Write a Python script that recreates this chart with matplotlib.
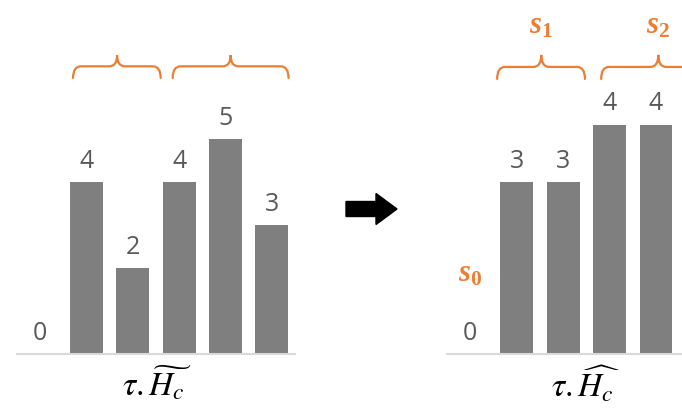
import matplotlib.pyplot as plt
from matplotlib.path import Path
from matplotlib.patches import PathPatch, FancyArrow

plt.rcParams['font.family'] = ['Open Sans', 'DejaVu Sans']
plt.rcParams['mathtext.fontset'] = 'custom'
plt.rcParams['mathtext.it'] = 'Liberation Serif:bold:italic'
plt.rcParams['mathtext.rm'] = 'Liberation Serif:bold'
plt.rcParams['mathtext.bf'] = 'Liberation Serif:bold'

before = [0, 4, 2, 4, 5, 3]
after = [0, 3, 3, 4, 4]
# brace groups: (start, tip, end) in category units
before_braces = [(0.71, 1.66, 2.60), (2.86, 4.11, 5.36)]
after_braces = [(0.58, 1.53, 2.47), (2.82, 4.05, 5.28)]
seg_labels = [r'$s_1$', r'$s_2$']

bar_col = '#7f7f7f'
txt_col = '#595959'
orange = '#ed7d31'

W, H = 682, 409
fig = plt.figure(figsize=(6.82, 4.09), dpi=100)


def brace(ax, x0, xm, x1, ylo, ymid, yhi, rx):
    verts = [(x0, ylo), (x0, ymid), (x0 + rx, ymid),
             (xm - rx, ymid),
             (xm, ymid), (xm, yhi),
             (xm, ymid), (xm + rx, ymid),
             (x1 - rx, ymid),
             (x1, ymid), (x1, ylo)]
    codes = [Path.MOVETO, Path.CURVE3, Path.CURVE3,
             Path.LINETO,
             Path.CURVE3, Path.CURVE3,
             Path.CURVE3, Path.CURVE3,
             Path.LINETO,
             Path.CURVE3, Path.CURVE3]
    ax.add_patch(PathPatch(Path(verts, codes), fill=False, ec=orange, lw=1.6,
                           clip_on=False, capstyle='round'))


def setup(ax, n, top):
    ax.set_xlim(-0.5, n - 0.5)
    ax.set_ylim(0, top)
    ax.set_xticks([])
    ax.set_yticks([])
    for s in ['left', 'right', 'top']:
        ax.spines[s].set_visible(False)
    ax.spines['bottom'].set_color('#d9d9d9')
    ax.spines['bottom'].set_linewidth(1.5)
    ax.patch.set_alpha(0)


# left chart
ax1 = fig.add_axes([17 / W, 55 / H, 278 / W, 354 / H])
setup(ax1, len(before), 354 / 43)
b1 = ax1.bar(range(len(before)), before, width=0.71, color=bar_col)
ax1.bar_label(b1, padding=6, fontsize=18, color=txt_col)
for x0, xm, x1 in before_braces:
    brace(ax1, x0, xm, x1, 6.42, 6.69, 6.95, 0.17)

# right chart
ax2 = fig.add_axes([447 / W, 55 / H, 235 / W, 354 / H])
setup(ax2, len(after), 354 / 57.3)
ax2.set_xlim(-0.5, 4.56)
b2 = ax2.bar(range(len(after)), after, width=0.71, color=bar_col)
ax2.bar_label(b2, padding=6, fontsize=18, color=txt_col)
for (x0, xm, x1), lab in zip(after_braces, seg_labels):
    brace(ax2, x0, xm, x1, 4.80, 5.01, 5.22, 0.17)
    ax2.text(xm, 5.6, lab, ha='center', va='baseline', fontsize=22, color=orange)
ax2.text(0, 1.26, r'$s_0$', ha='center', va='baseline', fontsize=22, color=orange)

# axis captions
fig.text(157 / W, 13 / H, r'$\tau.\widetilde{H_c}$', ha='center', va='baseline',
         fontsize=24, math_fontfamily='stix')
fig.text(586 / W, 12 / H, r'$\tau.\widehat{H_c}$', ha='center', va='baseline',
         fontsize=24, math_fontfamily='stix')

# arrow between the charts (pixel coordinates)
ov = fig.add_axes([0, 0, 1, 1])
ov.set_xlim(0, W)
ov.set_ylim(H, 0)
ov.axis('off')
ov.add_patch(FancyArrow(346, 209, 51, 0, width=15, head_width=31, head_length=21,
                        length_includes_head=True, color='black'))

fig.savefig('out.png', dpi=100)
